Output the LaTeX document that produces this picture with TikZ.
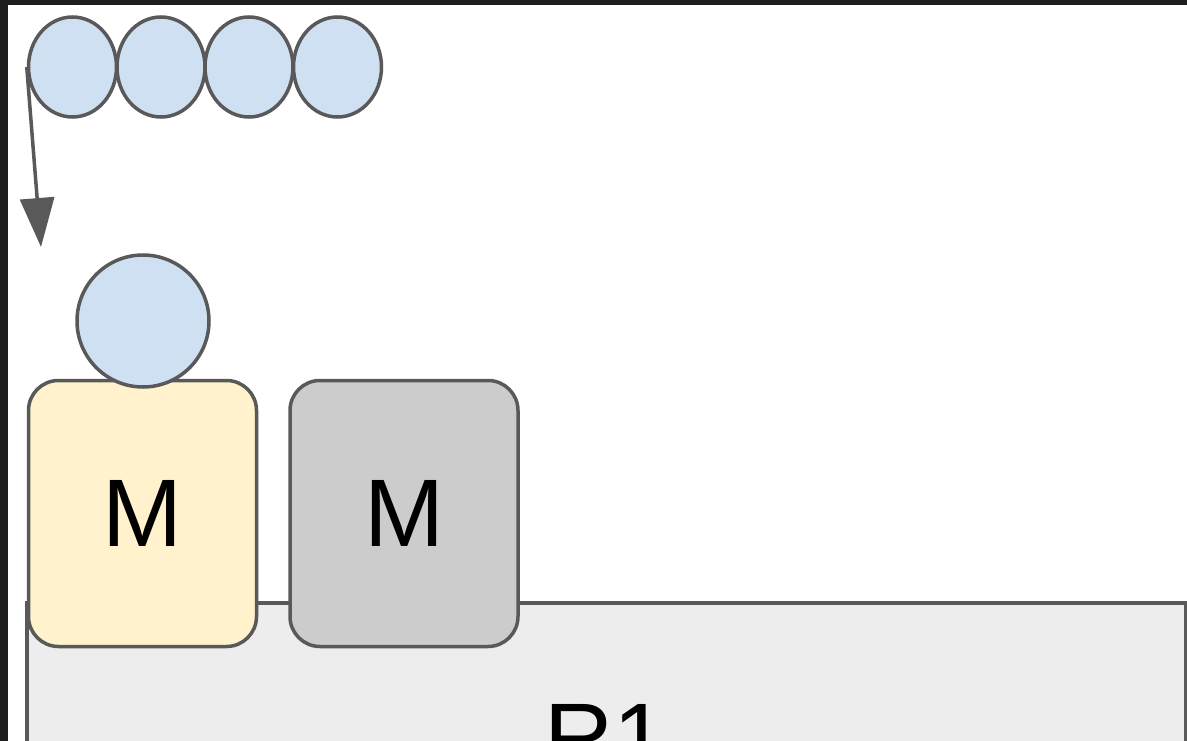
\documentclass[tikz,border=0pt]{standalone}
\usepackage{fontspec}
\setmainfont{Liberation Sans}
\usetikzlibrary{shapes.geometric,arrows.meta}
\definecolor{strokeg}{HTML}{595959}
\definecolor{bluef}{HTML}{CFE0F2}
\definecolor{yellowf}{HTML}{FFF2CC}
\definecolor{grayf}{HTML}{CCCCCC}
\definecolor{railf}{HTML}{EDEDED}
\definecolor{framec}{HTML}{1E1E1E}
\tikzset{
  ball/.style={ellipse, draw=strokeg, line width=3.5pt, fill=bluef, minimum width=88pt, minimum height=100pt, inner sep=0pt},
  bigball/.style={circle, draw=strokeg, line width=3.5pt, fill=bluef, minimum size=132pt, inner sep=0pt},
  mbox/.style={draw=strokeg, line width=3.5pt, rounded corners=30pt, minimum width=228pt, minimum height=266pt, inner sep=0pt, font=\fontsize{96}{96}\selectfont},
  rail/.style={draw=strokeg, line width=3.5pt, fill=railf},
  conn/.style={draw=strokeg, line width=3.5pt, -{Triangle[length=49pt,width=34pt]}}
}
\begin{document}
\begin{tikzpicture}[x=1pt,y=-1pt]
\useasboundingbox (0,0) rectangle (1187,741);
\clip (0,0) rectangle (1187,741);
\fill[white] (0,0) rectangle (1187,741);
% rail
\draw[rail] (27,603) rectangle (1185.5,800);
\node[anchor=base, font=\fontsize{96}{96}\selectfont] (r1) at (606,770) {R1};
% machines
\node[mbox, fill=yellowf] (m1) at (142.5,513.5) {M};
\node[mbox, fill=grayf] (m2) at (404,513.5) {M};
% ball on machine
\node[bigball] (b0) at (143,321) {};
% queue
\node[ball] (q1) at (72.5,67) {};
\node[ball] (q2) at (161,67) {};
\node[ball] (q3) at (249,67) {};
\node[ball] (q4) at (337.5,67) {};
\coordinate (tip) at (41,247);
\draw[conn] (q1.west) -- (tip);
% screenshot frame
\fill[framec] (0,0) rectangle (1187,5);
\fill[framec] (0,0) rectangle (8,741);
\end{tikzpicture}
\end{document}
